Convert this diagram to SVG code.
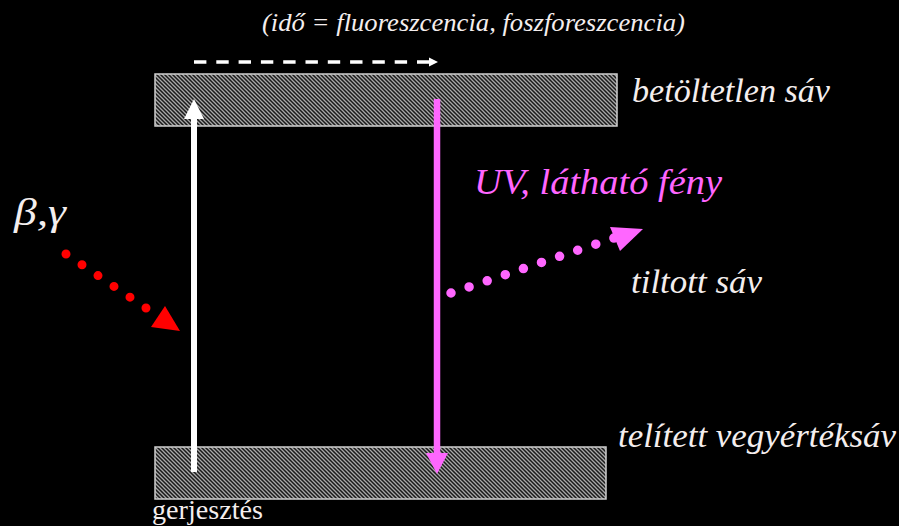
<svg xmlns="http://www.w3.org/2000/svg" width="899" height="526" viewBox="0 0 899 526">
  <style>
    .band { fill: url(#hatch); stroke: #d0d0d0; stroke-width: 1.5; }
    .lbl { font-family: 'Liberation Serif', 'Times New Roman', serif; font-style: italic; fill: #f4eeee; }
  </style>
  <defs>
    <pattern id="hatch" patternUnits="userSpaceOnUse" width="4" height="4">
      <rect width="4" height="4" fill="#1a1a1a"/>
      <path d="M-1,-1 L5,5 M-1,3 L1,5 M3,-1 L5,1" stroke="#a8a8a8" stroke-width="1.3"/>
    </pattern>
    <marker id="headW" markerUnits="userSpaceOnUse" markerWidth="20" markerHeight="20" refX="0" refY="9" orient="auto" viewBox="0 0 18 18" overflow="visible">
      <path d="M0,0 L18,9 L0,18 Z" fill="#ffffff"/>
    </marker>
    <marker id="headP" markerUnits="userSpaceOnUse" markerWidth="22" markerHeight="22" refX="0" refY="10.5" orient="auto" viewBox="0 0 20 21" overflow="visible">
      <path d="M0,0 L20,10.5 L0,21 Z" fill="#ff66ff"/>
    </marker>
    <marker id="headS" markerUnits="userSpaceOnUse" markerWidth="9" markerHeight="9" refX="0" refY="4" orient="auto" viewBox="0 0 8 8" overflow="visible">
      <path d="M0,0 L8,4 L0,8 Z" fill="#ffffff"/>
    </marker>
  </defs>

  <rect width="899" height="526" fill="#000000"/>

  <g id="band-top">
    <rect class="band" x="155" y="74" width="462" height="52"/>
  </g>
  <g id="band-bottom">
    <rect class="band" x="155" y="447" width="451" height="52"/>
  </g>

  <g id="connectors">
    <line x1="194" y1="62" x2="429" y2="62" stroke="#ffffff" stroke-width="3.5" stroke-dasharray="12.4 9.9" marker-end="url(#headS)"/>
    <line x1="194" y1="472" x2="194" y2="119" stroke="#ffffff" stroke-width="6" marker-end="url(#headW)"/>
    <line x1="437" y1="99" x2="437" y2="453" stroke="#ff66ff" stroke-width="6.5" marker-end="url(#headP)"/>
    <line x1="66" y1="254" x2="146" y2="308" stroke="#ff0000" stroke-width="9" stroke-linecap="round" stroke-dasharray="0 19.3"/>
    <polygon points="165,306 151,327 180,331" fill="#ff0000"/>
    <line x1="451" y1="293" x2="614" y2="238" stroke="#ff66ff" stroke-width="9.5" stroke-linecap="round" stroke-dasharray="0 19.1"/>
    <polygon points="610,227 643,229 620,251" fill="#ff66ff"/>
  </g>

  <g id="label-time">
    <text class="lbl" x="262" y="31" font-size="26" textLength="423" lengthAdjust="spacingAndGlyphs">(idő = fluoreszcencia, foszforeszcencia)</text>
  </g>
  <g id="label-conduction">
    <text class="lbl" x="632" y="102" font-size="34" textLength="198" lengthAdjust="spacingAndGlyphs">betöltetlen sáv</text>
  </g>
  <g id="label-forbidden">
    <text class="lbl" x="631" y="293" font-size="34" textLength="131" lengthAdjust="spacingAndGlyphs">tiltott sáv</text>
  </g>
  <g id="label-valence">
    <text class="lbl" x="618" y="447" font-size="34" textLength="278" lengthAdjust="spacingAndGlyphs">telített vegyértéksáv</text>
  </g>
  <g id="label-uv">
    <text class="lbl" x="474" y="194" font-size="35" style="fill:#ff66ff" textLength="248" lengthAdjust="spacingAndGlyphs">UV, látható fény</text>
  </g>
  <g id="label-beta-gamma">
    <text class="lbl" x="14" y="225" font-size="37" textLength="52" lengthAdjust="spacingAndGlyphs">β,γ</text>
  </g>
  <g id="label-excitation">
    <text class="lbl" x="152" y="519" font-size="28" style="font-style:normal" textLength="111" lengthAdjust="spacingAndGlyphs">gerjesztés</text>
  </g>
</svg>
